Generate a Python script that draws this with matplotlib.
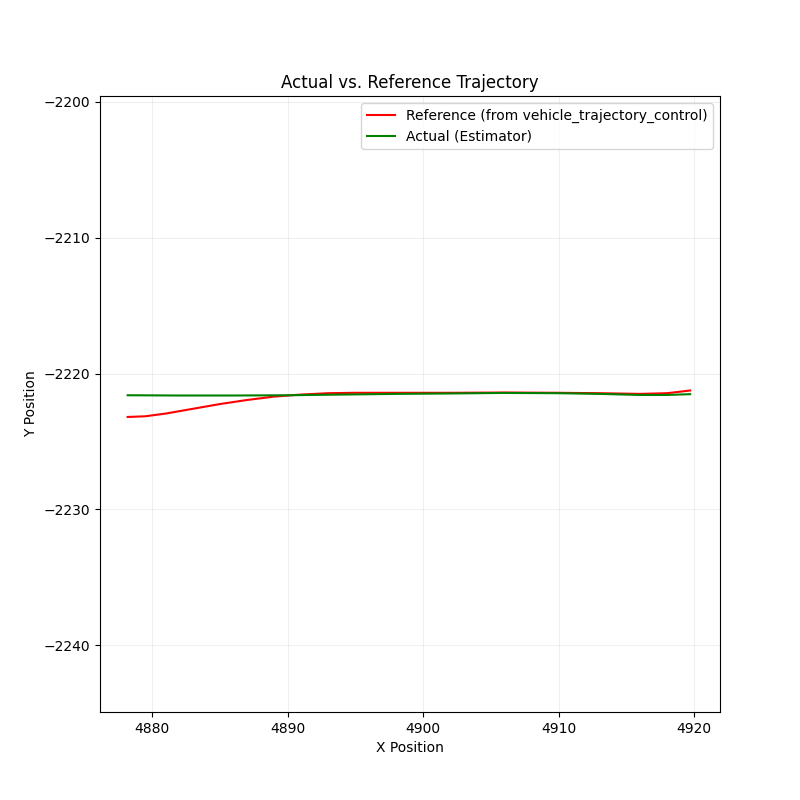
import matplotlib
matplotlib.use("Agg")
import matplotlib.pyplot as plt

ref_x = [4878.2, 4879.5, 4881, 4883, 4885, 4887, 4889, 4891, 4893, 4895, 4898, 4902, 4906, 4910, 4913, 4916, 4918, 4919.7]
ref_y = [-2223.2, -2223.15, -2222.95, -2222.6, -2222.25, -2221.95, -2221.7, -2221.55, -2221.45, -2221.42, -2221.42, -2221.42, -2221.4, -2221.42, -2221.45, -2221.5, -2221.45, -2221.25]
act_x = [4878.2, 4882, 4886, 4890, 4894, 4898, 4902, 4906, 4910, 4913, 4916, 4918, 4919.7]
act_y = [-2221.6, -2221.62, -2221.62, -2221.6, -2221.55, -2221.5, -2221.47, -2221.43, -2221.45, -2221.5, -2221.58, -2221.58, -2221.52]

fig, ax = plt.subplots(figsize=(8, 8), dpi=100)
ax.plot(ref_x, ref_y, color="red", label="Reference (from vehicle_trajectory_control)")
ax.plot(act_x, act_y, color="green", label="Actual (Estimator)")
ax.set_xlim(4876.16, 4921.9)
ax.set_ylim(-2244.93, -2199.56)
ax.set_xlabel("X Position")
ax.set_ylabel("Y Position")
ax.set_title("Actual vs. Reference Trajectory")
ax.grid(True, alpha=0.2)
ax.legend(loc="upper right")
fig.savefig("out.png")
